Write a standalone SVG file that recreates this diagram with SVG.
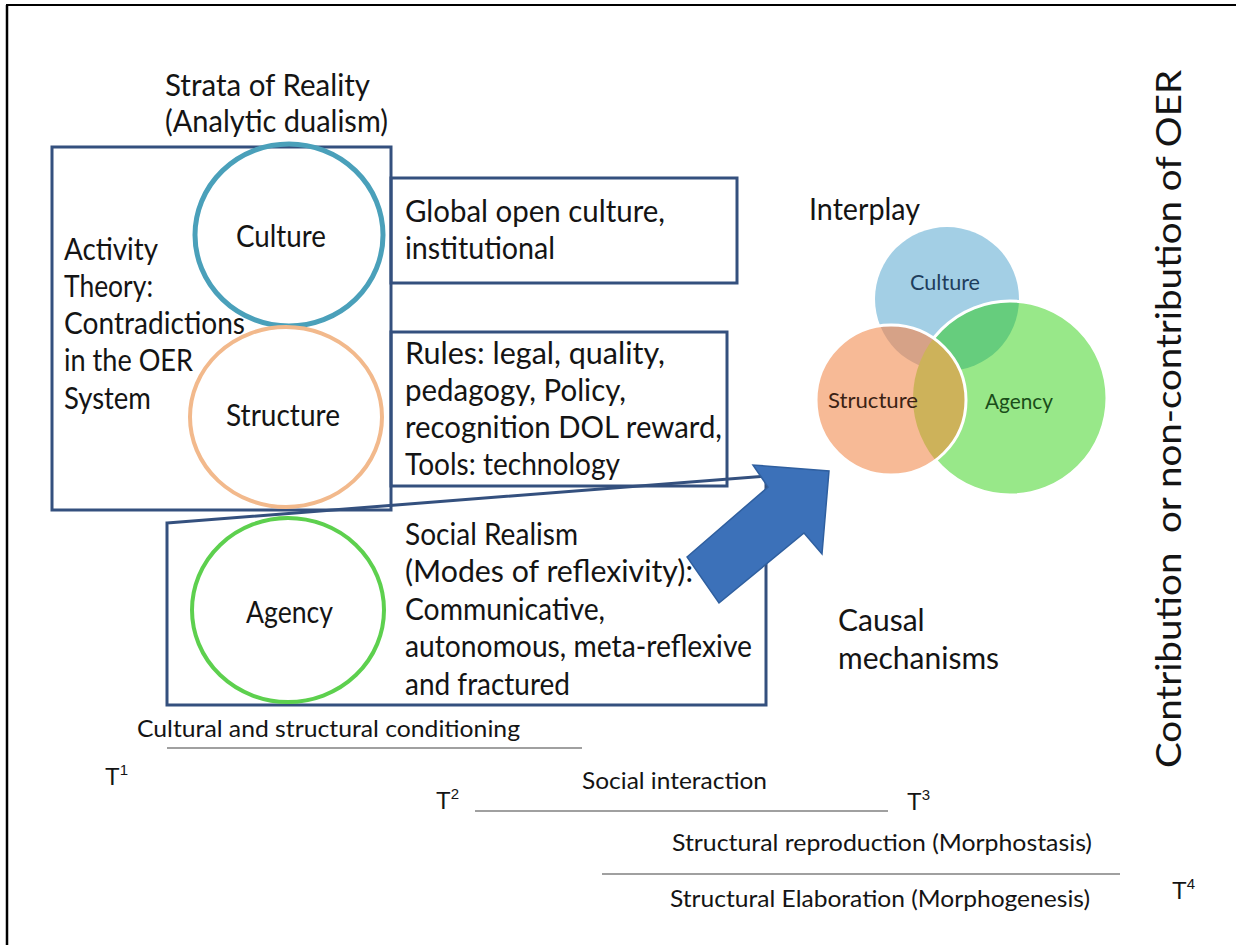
<svg xmlns="http://www.w3.org/2000/svg" width="1236" height="945" viewBox="0 0 1236 945">
<style>
.t{font-family:Lato,"Liberation Sans",sans-serif;fill:#141414}
.l{font-size:30px}
.s{font-size:24px}
.v{font-size:22px}
.a{font-family:"Liberation Sans",Arial,sans-serif;font-size:24px;fill:#141414}
.sup{font-size:15px}
.box{fill:none;stroke:#34507e;stroke-width:3}
.tl{stroke:#808080;stroke-width:1.5;fill:none}
</style>
<defs>
<clipPath id="cC"><circle cx="947" cy="299" r="72"/></clipPath>
<clipPath id="cA"><circle cx="1010" cy="398" r="97"/></clipPath>
</defs>
<rect width="1236" height="945" fill="#fff"/>
<g id="frame">
<line x1="7" y1="5" x2="7" y2="945" stroke="#000" stroke-width="2.5"/>
<line x1="6" y1="5" x2="1236" y2="5" stroke="#000" stroke-width="2"/>
</g>
<g id="title">
<text class="t l" x="165" y="96" textLength="205" lengthAdjust="spacingAndGlyphs">Strata of Reality</text>
<text class="t l" x="165" y="132" textLength="223" lengthAdjust="spacingAndGlyphs">(Analytic dualism)</text>
</g>
<g id="activity-box">
<rect class="box" x="52" y="147" width="339" height="363"/>
<text class="t l" x="64" y="260" textLength="94" lengthAdjust="spacingAndGlyphs">Activity</text>
<text class="t l" x="64" y="297" textLength="89" lengthAdjust="spacingAndGlyphs">Theory:</text>
<text class="t l" x="64" y="334" textLength="181" lengthAdjust="spacingAndGlyphs">Contradictions</text>
<text class="t l" x="64" y="371" textLength="129" lengthAdjust="spacingAndGlyphs">in the OER</text>
<text class="t l" x="64" y="409" textLength="87" lengthAdjust="spacingAndGlyphs">System</text>
</g>
<g id="culture-node">
<ellipse cx="289" cy="235" rx="94" ry="91" fill="none" stroke="#4aa0ba" stroke-width="5"/>
<text class="t l" x="236" y="247" textLength="90" lengthAdjust="spacingAndGlyphs">Culture</text>
</g>
<g id="structure-node">
<ellipse cx="286" cy="417" rx="96" ry="90" fill="none" stroke="#f2b98c" stroke-width="4"/>
<text class="t l" x="226" y="426" textLength="114" lengthAdjust="spacingAndGlyphs">Structure</text>
</g>
<g id="global-box">
<rect class="box" x="391" y="178" width="346" height="105"/>
<text class="t l" x="405" y="222" textLength="260" lengthAdjust="spacingAndGlyphs">Global open culture,</text>
<text class="t l" x="405" y="259" textLength="150" lengthAdjust="spacingAndGlyphs">institutional</text>
</g>
<g id="rules-box">
<rect class="box" x="391" y="332" width="336" height="154"/>
<text class="t l" x="405" y="364" textLength="260" lengthAdjust="spacingAndGlyphs">Rules: legal, quality,</text>
<text class="t l" x="405" y="401" textLength="221" lengthAdjust="spacingAndGlyphs">pedagogy, Policy,</text>
<text class="t l" x="405" y="438" textLength="317" lengthAdjust="spacingAndGlyphs">recognition DOL reward,</text>
<text class="t l" x="405" y="475" textLength="215" lengthAdjust="spacingAndGlyphs">Tools: technology</text>
</g>
<g id="agency-box">
<polygon class="box" points="167,523 766,476 766,705 167,705"/>
<ellipse cx="288" cy="610" rx="96" ry="92" fill="none" stroke="#5dd04e" stroke-width="4"/>
<text class="t l" x="246" y="623" textLength="87" lengthAdjust="spacingAndGlyphs">Agency</text>
<text class="t l" x="405" y="545" textLength="173" lengthAdjust="spacingAndGlyphs">Social Realism</text>
<text class="t l" x="405" y="582" textLength="288" lengthAdjust="spacingAndGlyphs">(Modes of reflexivity):</text>
<text class="t l" x="405" y="620" textLength="200" lengthAdjust="spacingAndGlyphs">Communicative,</text>
<text class="t l" x="405" y="657" textLength="347" lengthAdjust="spacingAndGlyphs">autonomous, meta-reflexive</text>
<text class="t l" x="405" y="695" textLength="165" lengthAdjust="spacingAndGlyphs">and fractured</text>
</g>
<g id="connectors">
<polygon points="687,557 768,487 753,465 829,471 822,554 804,533 719,603" fill="#3c71b9" stroke="#2f5f9f" stroke-width="1.5"/>
</g>
<g id="interplay">
<text class="t l" x="809" y="220" textLength="111" lengthAdjust="spacingAndGlyphs">Interplay</text>
<circle cx="947" cy="299" r="72" fill="#a3cfe5"/>
<circle cx="1010" cy="398" r="97" fill="#98e889"/>
<circle cx="1010" cy="398" r="97" fill="#66cd7d" clip-path="url(#cC)"/>
<circle cx="1010" cy="398" r="97" fill="none" stroke="#fff" stroke-width="3"/>
<circle cx="891" cy="400" r="75" fill="#f7ba96"/>
<circle cx="891" cy="400" r="75" fill="#d6a287" clip-path="url(#cC)"/>
<circle cx="891" cy="400" r="75" fill="#cdb25a" clip-path="url(#cA)"/>
<circle cx="891" cy="400" r="75" fill="none" stroke="#fff" stroke-width="3"/>
<text class="t v" x="910" y="290" textLength="70" lengthAdjust="spacingAndGlyphs" style="fill:#1e3d5c">Culture</text>
<text class="t v" x="828" y="408" textLength="90" lengthAdjust="spacingAndGlyphs" style="fill:#3b2214">Structure</text>
<text class="t v" x="985" y="409" textLength="68" lengthAdjust="spacingAndGlyphs" style="fill:#1a4d1a">Agency</text>
</g>
<g id="causal">
<text class="t l" x="838" y="631">Causal</text>
<text class="t l" x="838" y="669">mechanisms</text>
</g>
<g id="timeline">
<text class="t s" x="137" y="737" textLength="383" lengthAdjust="spacingAndGlyphs">Cultural and structural conditioning</text>
<line class="tl" x1="167" y1="748" x2="582" y2="748"/>
<text class="a" x="105" y="785">T<tspan class="sup" dy="-10">1</tspan></text>
<text class="a" x="436" y="809">T<tspan class="sup" dy="-10">2</tspan></text>
<text class="t s" x="582" y="789" textLength="185" lengthAdjust="spacingAndGlyphs">Social interaction</text>
<line class="tl" x1="475" y1="811" x2="888" y2="811"/>
<text class="a" x="907" y="810">T<tspan class="sup" dy="-10">3</tspan></text>
<text class="t s" x="672" y="851" textLength="420" lengthAdjust="spacingAndGlyphs">Structural reproduction (Morphostasis)</text>
<line class="tl" x1="602" y1="874" x2="1120" y2="874"/>
<text class="t s" x="670" y="907" textLength="420" lengthAdjust="spacingAndGlyphs">Structural Elaboration (Morphogenesis)</text>
<text class="a" x="1172" y="899">T<tspan class="sup" dy="-10">4</tspan></text>
</g>
<g id="outcome">
<text class="t" font-size="34" transform="translate(1181,768) rotate(-90)" textLength="698" lengthAdjust="spacingAndGlyphs" xml:space="preserve">Contribution  or non-contribution of OER</text>
</g>
</svg>
